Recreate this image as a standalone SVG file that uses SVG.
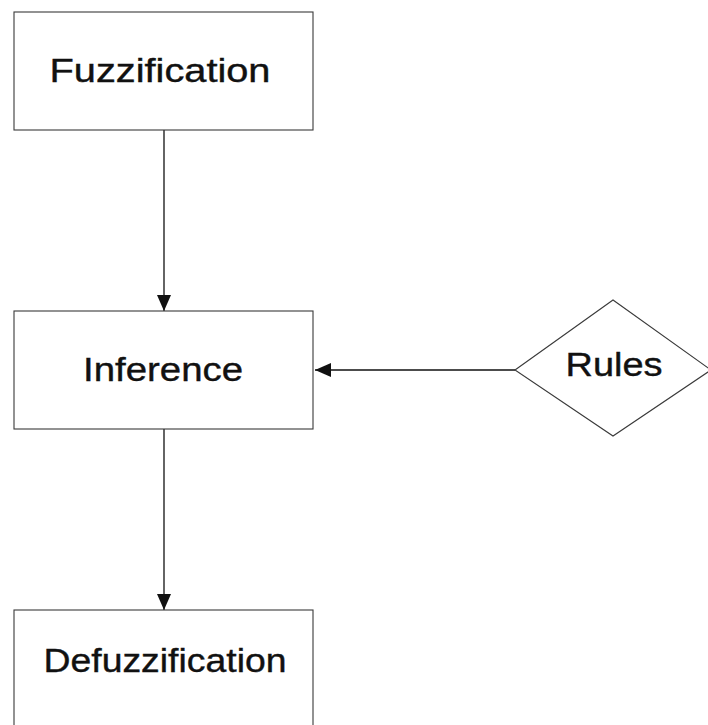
<svg xmlns="http://www.w3.org/2000/svg" width="708" height="725" viewBox="0 0 708 725">
  <style>
    .box { fill: #ffffff; stroke: #3a3a3a; stroke-width: 1.1; }
    .label { font-family: "Liberation Sans", Arial, sans-serif; font-size: 34px; fill: #111111; stroke: #111111; stroke-width: 0.4; text-anchor: middle; }
    .edge { stroke: #111111; stroke-width: 1.3; fill: none; marker-end: url(#arrow); }
  </style>
  <defs>
    <marker id="arrow" markerUnits="userSpaceOnUse" markerWidth="16" markerHeight="14" refX="16" refY="7" orient="auto">
      <path d="M0,0 L16,7 L0,14 Z" fill="#111111"/>
    </marker>
  </defs>
  <rect width="708" height="725" fill="#ffffff"/>

  <g id="connectors">
    <line class="edge" x1="164" y1="130" x2="164" y2="311"/>
    <line class="edge" x1="164" y1="429" x2="164" y2="610"/>
    <line class="edge" x1="515" y1="370" x2="315" y2="370"/>
  </g>

  <g id="fuzzification">
    <rect class="box" x="14" y="12" width="299" height="118"/>
    <text class="label" x="160" y="82" textLength="221" lengthAdjust="spacingAndGlyphs">Fuzzification</text>
  </g>

  <g id="inference">
    <rect class="box" x="14" y="311" width="299" height="118"/>
    <text class="label" x="163" y="381" textLength="160" lengthAdjust="spacingAndGlyphs">Inference</text>
  </g>

  <g id="rules">
    <polygon class="box" points="515,370 613,300 711,370 613,436"/>
    <text class="label" x="614" y="376" textLength="97" lengthAdjust="spacingAndGlyphs">Rules</text>
  </g>

  <g id="defuzzification">
    <rect class="box" x="14" y="610" width="299" height="130"/>
    <text class="label" x="165" y="672" textLength="243" lengthAdjust="spacingAndGlyphs">Defuzzification</text>
  </g>
</svg>
